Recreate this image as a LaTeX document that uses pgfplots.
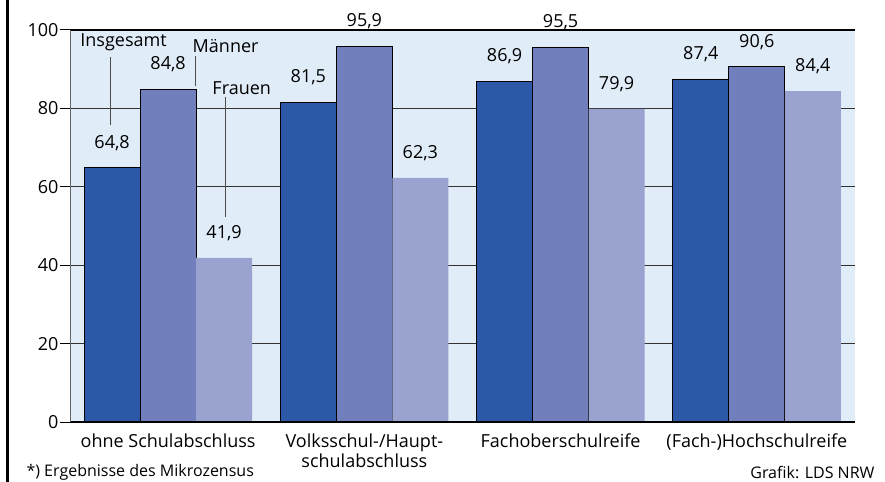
\documentclass[border=0pt]{standalone}
\usepackage{fontspec}
\setmainfont{Open Sans}
\usepackage{pgfplots}
\pgfplotsset{compat=1.18}
\definecolor{cA}{HTML}{2B58A7}
\definecolor{cB}{HTML}{717FBC}
\definecolor{cC}{HTML}{9AA2D0}
\definecolor{bg}{HTML}{E0ECF8}
\newcommand{\lf}{\fontsize{18bp}{20bp}\selectfont}
\begin{document}
\begin{tikzpicture}
\path[use as bounding box] (-70bp,-60bp) rectangle (815bp,422bp);
\draw[black, line width=2.5bp] (-62.5bp,-60bp) -- (-62.5bp,422bp);
\begin{axis}[
 at={(0,0)}, anchor=south west,
 scale only axis, width=785bp, height=392bp,
 xmin=-0.5, xmax=3.5, ymin=0, ymax=100,
 clip=false,
 ybar=0pt, bar width=56bp,
 axis line style={draw=none},
 axis background/.style={fill=bg},
 ytick={0,20,40,60,80,100}, xtick={0,1,2,3},
 xticklabels={ohne Schulabschluss,{Volksschul-/Haupt-\\schulabschluss},Fachoberschulreife,(Fach-)Hochschulreife},
 xticklabel style={align=center, font=\lf, yshift=2bp},
 yticklabel style={font=\lf, xshift=2bp},
 x tick style={draw=none},
 y tick style={black, line width=1bp},
 ytick pos=left,
 major tick length=10bp, tick align=outside,
 ymajorgrids, major grid style={black!80, line width=1bp},
 /pgf/number format/assume math mode=true,
 nodes near coords={\pgfmathprintnumber[fixed,fixed zerofill,precision=1,use comma]{\pgfplotspointmeta}},
 every node near coord/.append style={font=\lf, anchor=center, yshift=25bp},
]
\addplot[fill=cA, draw=black, line width=1bp] coordinates {(0,64.8) (1,81.5) (2,86.9) (3,87.4)};
\addplot[fill=cB, draw=black, line width=1bp] coordinates {(0,84.8) (1,95.9) (2,95.5) (3,90.6)};
\addplot[fill=cC, draw=none] coordinates {(0,41.9) (1,62.3) (2,79.9) (3,84.4)};
\draw[black, line width=1.2bp] (rel axis cs:0,1) -- (rel axis cs:1,1);
\draw[black, line width=1.5bp] (rel axis cs:0,0) -- (rel axis cs:1,0);
\draw[black!60, line width=1bp] (rel axis cs:0,0) -- (rel axis cs:0,1);
\node[font=\lf] at (axis cs:-0.227,96.9) {Insgesamt};
\draw[black!70, line width=0.8bp] (axis cs:-0.293,93.1) -- (axis cs:-0.293,75.8);
\node[font=\lf] at (axis cs:0.293,95.9) {Männer};
\draw[black!70, line width=0.8bp] (axis cs:0.140,93.4) -- (axis cs:0.140,85.7);
\node[font=\lf] at (axis cs:0.375,85.2) {Frauen};
\draw[black!70, line width=0.8bp] (axis cs:0.293,82.9) -- (axis cs:0.293,52.3);
\end{axis}
\node[anchor=west, font=\fontsize{16bp}{19bp}\selectfont] at (-47bp,-50bp) {*) Ergebnisse des Mikrozensus};
\node[anchor=east, font=\fontsize{16bp}{19bp}\selectfont] at (808bp,-50bp) {Grafik: LDS NRW};
\end{tikzpicture}
\end{document}
